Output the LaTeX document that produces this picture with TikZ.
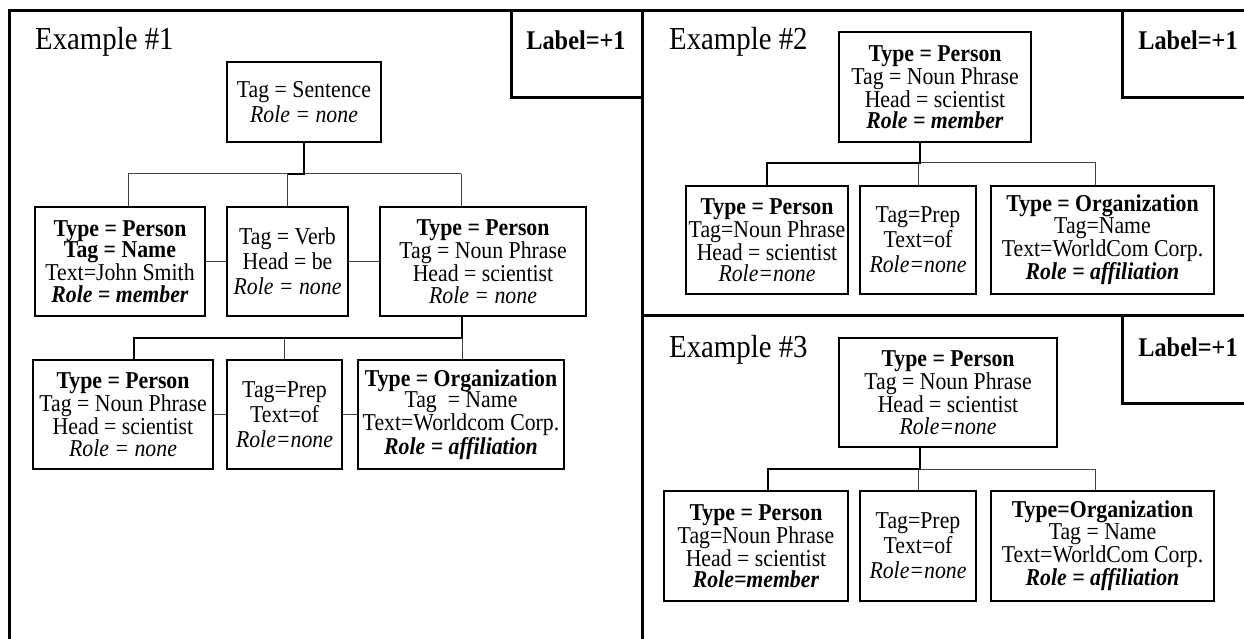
\documentclass[tikz,border=0pt]{standalone}
\usepackage{fontspec}
\setmainfont{Liberation Serif}[FakeStretch=0.9]
\tikzset{
  featbox/.style={draw, line width=2.5pt, align=center, inner sep=0pt},
  tight/.style={font=\fontsize{24.2}{21.5}\selectfont},
  loose/.style={font=\fontsize{24.2}{25}\selectfont},
  wire/.style={line width=1pt, black!75},
  boldwire/.style={line width=2.5pt},
  frame/.style={line width=3pt},
  extitle/.style={anchor=base west, inner sep=0pt, font=\fontsize{32}{32}\selectfont},
  labeltext/.style={inner sep=0pt, font=\bfseries\fontsize{27}{27}\selectfont},
}

\begin{document}
\begin{tikzpicture}[x=1pt,y=-1pt]
\useasboundingbox (0,0) rectangle (1244,639);

% frames
\draw[frame] (9,639) -- (9,11) -- (1244,11);
\draw[frame] (642,11) -- (642,639);
\draw[frame] (642,315) -- (1244,315);
\draw[frame] (511,11) -- (511,98) -- (642,98);
\draw[frame] (1122,11) -- (1122,98) -- (1244,98);
\draw[frame] (1122,315) -- (1122,403) -- (1244,403);

\node[labeltext] (lab1) at (576,40) {Label=+1};
\node[labeltext] (lab2) at (1188,40) {Label=+1};
\node[labeltext] (lab3) at (1188,347) {Label=+1};

\node[extitle] (ex1) at (35,50) {Example \#1};
\node[extitle] (ex2) at (669,50) {Example \#2};
\node[extitle] (ex3) at (669,357) {Example \#3};

% Example 1
\node[featbox, loose, minimum width=154pt, minimum height=80pt] (s1) at (304,102)
  {Tag = Sentence\\ \textit{Role = none}};
\node[featbox, tight, minimum width=170pt, minimum height=109pt] (A) at (120,261.5)
  {\textbf{Type = Person}\\ \textbf{Tag = Name}\\ Text=John Smith\\ \textbf{\textit{Role = member}}};
\node[featbox, loose, minimum width=121pt, minimum height=109pt] (B) at (287.5,261.5)
  {Tag = Verb\\ Head = be\\ \textit{Role = none}};
\node[featbox, tight, minimum width=206pt, minimum height=109pt] (C) at (483,261.5)
  {\textbf{Type = Person}\\ Tag = Noun Phrase\\ Head = scientist\\ \textit{Role = none}};
\node[featbox, tight, minimum width=180pt, minimum height=109pt] (D) at (123,414.5)
  {\textbf{Type = Person}\\ Tag = Noun Phrase\\ Head = scientist\\ \textit{Role = none}};
\node[featbox, loose, minimum width=115pt, minimum height=109pt] (E) at (284.5,414.5)
  {Tag=Prep\\ Text=of\\ \textit{Role=none}};
\node[featbox, tight, minimum width=206pt, minimum height=109pt] (F) at (461,414.5)
  {\textbf{Type = Organization}\\ Tag \ = Name\\ Text=Worldcom Corp.\\ \textbf{\textit{Role = affiliation}}};

\coordinate (bus1L) at (128,174);
\coordinate (bus1R) at (461,174);
\draw[wire] (bus1L) -- (bus1R);
\draw[wire] (bus1L) -- (bus1L |- A.north);
\draw[wire] (bus1R) -- (bus1R |- C.north);
\draw[wire] (B.north |- bus1L) -- (B.north);
\draw[boldwire] (s1.south) -- (s1.south |- bus1L) -- (B.north |- bus1L);
\draw[wire] (A.east) -- (B.west);
\draw[wire] (B.east) -- (C.west);

\coordinate (bus2L) at (134,338);
\coordinate (bus2R) at (462,338);
\draw[boldwire] (bus2R |- C.south) -- (bus2R) -- (bus2L) -- (bus2L |- D.north);
\draw[wire] (E.north |- bus2L) -- (E.north);
\draw[wire] (bus2R) -- (bus2R |- F.north);
\draw[wire] (D.east) -- (E.west);
\draw[wire] (E.east) -- (F.west);

% Example 2
\node[featbox, tight, minimum width=192pt, minimum height=110pt] (t2) at (935,87)
  {\textbf{Type = Person}\\ Tag = Noun Phrase\\ Head = scientist\\ \textbf{\textit{Role = member}}};
\node[featbox, tight, minimum width=162pt, minimum height=108pt] (G) at (767,240)
  {\textbf{Type = Person}\\ Tag=Noun Phrase\\ Head = scientist\\ \textit{Role=none}};
\node[featbox, loose, minimum width=116pt, minimum height=108pt] (H) at (918,240)
  {Tag=Prep\\ Text=of\\ \textit{Role=none}};
\node[featbox, tight, minimum width=223pt, minimum height=108pt] (I) at (1102.5,240)
  {\textbf{Type = Organization}\\ Tag=Name\\ Text=WorldCom Corp.\\ \textbf{\textit{Role = affiliation}}};

\coordinate (stem2) at (920,163);
\coordinate (bus3L) at (767,163);
\coordinate (bus3R) at (1095,163);
\draw[wire] (stem2) -- (bus3R) -- (bus3R |- I.north);
\draw[wire] (H.north |- stem2) -- (H.north);
\draw[boldwire] (stem2 |- t2.south) -- (stem2) -- (bus3L) -- (bus3L |- G.north);

% Example 3
\node[featbox, tight, minimum width=218pt, minimum height=109pt] (t3) at (948,392.5)
  {\textbf{Type = Person}\\ Tag = Noun Phrase\\ Head = scientist\\ \textit{Role=none}};
\node[featbox, tight, minimum width=184pt, minimum height=110pt] (J) at (756,546)
  {\textbf{Type = Person}\\ Tag=Noun Phrase\\ Head = scientist\\ \textbf{\textit{Role=member}}};
\node[featbox, loose, minimum width=116pt, minimum height=110pt] (K) at (918,546)
  {Tag=Prep\\ Text=of\\ \textit{Role=none}};
\node[featbox, tight, minimum width=223pt, minimum height=110pt] (L) at (1102.5,546)
  {\textbf{Type=Organization}\\ Tag = Name\\ Text=WorldCom Corp.\\ \textbf{\textit{Role = affiliation}}};

\coordinate (stem3) at (920,469);
\coordinate (bus4L) at (768,469);
\coordinate (bus4R) at (1095,469);
\draw[wire] (stem3) -- (bus4R) -- (bus4R |- L.north);
\draw[wire] (K.north |- stem3) -- (K.north);
\draw[boldwire] (stem3 |- t3.south) -- (stem3) -- (bus4L) -- (bus4L |- J.north);
\end{tikzpicture}
\end{document}
